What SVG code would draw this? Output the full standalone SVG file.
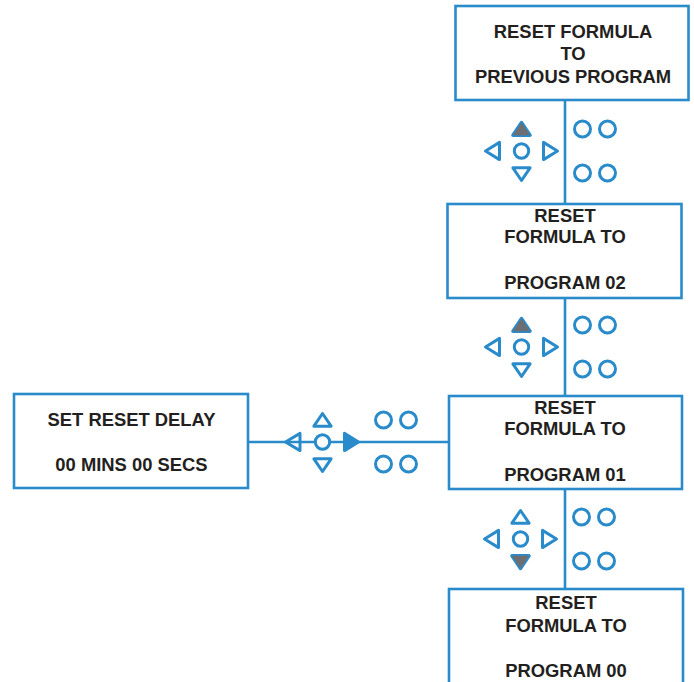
<svg xmlns="http://www.w3.org/2000/svg" width="694" height="682" viewBox="0 0 694 682">
<defs>
<style>
.box{fill:#fff;stroke:#2a8bcb;stroke-width:2.6}
.ln{fill:none;stroke:#2a8bcb;stroke-width:2.6}
.k{fill:none;stroke:#2a8bcb;stroke-width:3;stroke-linejoin:round}
.kg{fill:#6d6e71;stroke:#2a8bcb;stroke-width:3.4;stroke-linejoin:round;paint-order:stroke}
.kb{fill:#2a8bcb;stroke:#2a8bcb;stroke-width:3;stroke-linejoin:round}
text{font-family:"Liberation Sans",Arial,sans-serif;font-weight:bold;font-size:18.4px;fill:#231f20;text-anchor:middle}
</style>
<polygon id="up" points="0,-28.5 8.6,-15.8 -8.6,-15.8"/>
<polygon id="down" points="0,29.5 8.6,16.8 -8.6,16.8"/>
<polygon id="left" points="-36,0 -22,-8.6 -22,8.6"/>
<polygon id="right" points="36,0 22,-8.6 22,8.6"/>
<g id="circ">
<circle cx="0" cy="0" r="7.2" class="k"/>
<circle cx="61" cy="-22" r="8" class="k"/>
<circle cx="86" cy="-22" r="8" class="k"/>
<circle cx="61" cy="22" r="8" class="k"/>
<circle cx="86" cy="22" r="8" class="k"/>
</g>
</defs>

<g id="connectors">
<line class="ln" x1="565" y1="100" x2="565" y2="204"/>
<line class="ln" x1="565" y1="298" x2="565" y2="396"/>
<line class="ln" x1="565" y1="489" x2="565" y2="589"/>
<line class="ln" x1="248" y1="442" x2="449" y2="442"/>
</g>

<g id="keypad1" transform="translate(521.5,151)">
<use href="#up" class="kg"/><use href="#down" class="k"/><use href="#left" class="k"/><use href="#right" class="k"/><use href="#circ"/>
</g>
<g id="keypad2" transform="translate(521.5,347)">
<use href="#up" class="kg"/><use href="#down" class="k"/><use href="#left" class="k"/><use href="#right" class="k"/><use href="#circ"/>
</g>
<g id="keypad3" transform="translate(520.5,539)">
<use href="#up" class="k"/><use href="#down" class="kg"/><use href="#left" class="k"/><use href="#right" class="k"/><use href="#circ"/>
</g>
<g id="keypad4" transform="translate(322.5,442)">
<circle cx="0" cy="0" r="7.5" fill="#fff"/>
<use href="#up" class="k"/><use href="#down" class="k"/>
<polygon points="-37,0 -22.5,-8.6 -22.5,8.6" fill="#fff" class="k"/>
<use href="#right" class="kb"/><use href="#circ"/>
</g>

<g id="box1">
<rect class="box" x="455.5" y="6" width="233" height="94"/>
<text x="573" y="38">RESET FORMULA</text>
<text x="573" y="60">TO</text>
<text x="573" y="83">PREVIOUS PROGRAM</text>
</g>
<g id="box2">
<rect class="box" x="447.5" y="204" width="234" height="94"/>
<text x="565" y="222">RESET</text>
<text x="565" y="243">FORMULA TO</text>
<text x="565" y="289">PROGRAM 02</text>
</g>
<g id="box3">
<rect class="box" x="449" y="396" width="233" height="93"/>
<text x="565" y="414">RESET</text>
<text x="565" y="435">FORMULA TO</text>
<text x="565" y="481">PROGRAM 01</text>
</g>
<g id="box4">
<rect class="box" x="449" y="589" width="234" height="100"/>
<text x="566" y="609">RESET</text>
<text x="566" y="632">FORMULA TO</text>
<text x="566" y="677">PROGRAM 00</text>
</g>
<g id="box5">
<rect class="box" x="14" y="394" width="234" height="94"/>
<text x="131.5" y="426">SET RESET DELAY</text>
<text x="131.5" y="471">00 MINS 00 SECS</text>
</g>
</svg>
